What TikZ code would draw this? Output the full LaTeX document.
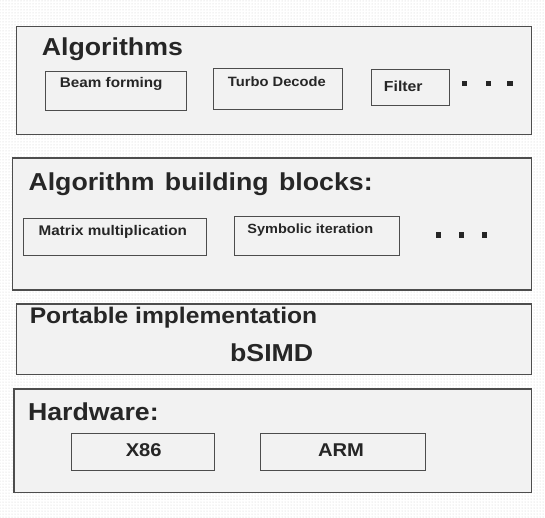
\documentclass[tikz,border=0pt]{standalone}
\usepackage{fontspec}
\setmainfont{Liberation Sans}
\newfontfamily\stretchsans[FakeStretch=1.09]{Liberation Sans}
\usetikzlibrary{patterns}
\definecolor{boxfill}{HTML}{F2F2F2}
\definecolor{edgegray}{HTML}{4D4D4D}
\definecolor{inkgray}{HTML}{262626}
\tikzset{
  layer/.style={draw=edgegray, line width=1.3pt, fill=boxfill, anchor=north west, inner sep=0pt},
  itembox/.style={draw=edgegray, line width=1pt, fill=boxfill, anchor=north west, inner sep=0pt},
  title/.style={anchor=base west, inner sep=0pt, text=inkgray, font=\stretchsans\bfseries\fontsize{24.5}{26}\selectfont},
  itemtext/.style={anchor=base, inner sep=0pt, text=inkgray, font=\stretchsans\bfseries\fontsize{14}{16}\selectfont},
  hwtext/.style={anchor=base, inner sep=0pt, text=inkgray, font=\stretchsans\bfseries\fontsize{18.5}{20}\selectfont},
  dotsq/.style={rectangle, fill=inkgray, inner sep=0pt, minimum size=5.5pt}
}
\begin{document}
\begin{tikzpicture}[x=1pt,y=-1pt]
\useasboundingbox (0,0) rectangle (545,517);
\fill[white] (0,0) rectangle (545,517);
\fill[pattern=dots, pattern color=gray!40] (0,0) rectangle (545,517);

% layer 1
\node[layer, minimum width=515pt, minimum height=108.5pt] (algs) at (15.5,25.5) {};
\node[title] (algsT) at (41.7,55) {Algorithms};
\node[itembox, minimum width=140.7pt, minimum height=39.3pt] (beam) at (45,70.7) {};
\node[itemtext] (beamT) at (111.2,87.3) {Beam forming};
\node[itembox, minimum width=128.4pt, minimum height=41pt] (turbo) at (213.3,68.3) {};
\node[itemtext, font=\stretchsans\bfseries\fontsize{13.5}{15}\selectfont] (turboT) at (276.9,86.7) {Turbo Decode};
\node[itembox, minimum width=78.6pt, minimum height=35.7pt] (filter) at (370.7,69.3) {};
\node[itemtext, font=\stretchsans\bfseries\fontsize{14.5}{16}\selectfont] (filterT) at (403.3,91.7) {Filter};
\node[dotsq] (d1) at (464.3,83.3) {};
\node[dotsq] (d2) at (488.3,83.3) {};
\node[dotsq] (d3) at (510,83.3) {};

% layer 2
\node[layer, minimum width=518.8pt, minimum height=132pt] (blocks) at (11.7,157.3) {};
\node[title] (blocksT) at (28.3,190) {Algorithm\hspace{0.12em} building\hspace{0.12em} blocks:};
\node[itembox, minimum width=182.4pt, minimum height=36.7pt] (matrix) at (23.3,218.3) {};
\node[itemtext] (matrixT) at (112.8,235.7) {Matrix multiplication};
\node[itembox, minimum width=164.7pt, minimum height=39.3pt] (symb) at (234.3,215.7) {};
\node[itemtext, font=\stretchsans\bfseries\fontsize{13.3}{15}\selectfont] (symbT) at (310.3,233.3) {Symbolic iteration};
\node[dotsq] (e1) at (438.3,235) {};
\node[dotsq] (e2) at (461.7,235) {};
\node[dotsq] (e3) at (484.3,235) {};

% layer 3
\node[layer, minimum width=514.8pt, minimum height=70.4pt] (port) at (15.7,303.3) {};
\node[title, font=\stretchsans\bfseries\fontsize{22.6}{24}\selectfont] (portT) at (29.6,323.3) {Portable implementation};
\node[title, anchor=base] (bsimd) at (271.7,361.7) {bSIMD};

% layer 4
\node[layer, minimum width=517.2pt, minimum height=103.4pt] (hw) at (13.3,388.3) {};
\node[title] (hwT) at (27.9,420.7) {Hardware:};
\node[itembox, minimum width=143.3pt, minimum height=36.7pt] (x86) at (70.7,433.3) {};
\node[hwtext] (x86T) at (143.7,456.7) {X86};
\node[itembox, minimum width=165pt, minimum height=36.2pt] (arm) at (260.3,433.3) {};
\node[hwtext] (armT) at (341,456.7) {ARM};
\end{tikzpicture}
\end{document}
